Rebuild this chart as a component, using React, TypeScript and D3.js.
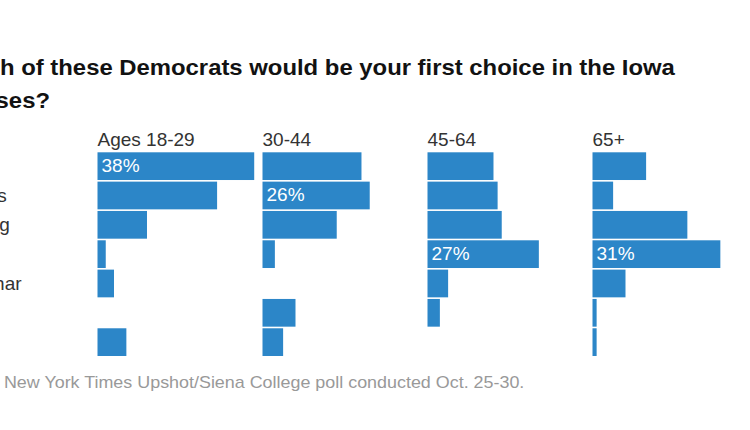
import React, { useLayoutEffect, useRef, useState } from "react";
import * as d3 from "d3";

const candidates = ["Warren", "Sanders", "Buttigieg", "Biden", "Klobuchar", "Harris", "Yang"];
const ageGroups = ["Ages 18-29", "30-44", "45-64", "65+"];
const age18to29 = [38, 29, 12, 2, 4, 0, 7];
const age30to44 = [24, 26, 18, 3, 0, 8, 5];
const age45to64 = [16, 17, 18, 27, 5, 3, 0];
const age65plus = [13, 5, 23, 31, 8, 1, 1];
const seriesValues = [age18to29, age30to44, age45to64, age65plus];
const titleLine1 = "Which of these Democrats would be your first choice in the Iowa";
const titleLine2 = "caucuses?";
const sourceText = "Source: New York Times Upshot/Siena College poll conducted Oct. 25-30.";

const W = 750;
const H = 430;
const BAR = "#2c86c8";
const FONT = "'Liberation Sans', Arial, sans-serif";

export default function App() {
  const t1 = useRef<SVGTextElement>(null);
  const t2 = useRef<SVGTextElement>(null);
  const ts = useRef<SVGTextElement>(null);
  const [m, setM] = useState({ s1: 1, p1: 0, w2: 0, sS: 1, pS: 0 });

  useLayoutEffect(() => {
    const e1 = t1.current!;
    const e2 = t2.current!;
    const es = ts.current!;
    const w1 = e1.getComputedTextLength();
    const p1 = e1.getStartPositionOfChar(4).x;
    const s1 = 675 / (w1 - p1);
    const w2 = e2.getComputedTextLength();
    const wS = es.getComputedTextLength();
    const pS = es.getStartPositionOfChar(8).x;
    const sS = 521 / (wS - pS);
    setM({ s1, p1, w2, sS, pS });
  }, []);

  const col = d3.scaleBand<string>().domain(ageGroups).range([97.5, 97.5 + 165 * ageGroups.length]).paddingInner(0);
  const row = d3.scaleBand<string>().domain(candidates).range([152.3, 356]).paddingInner(0.055).paddingOuter(0);
  const x = d3.scaleLinear().domain([0, 100]).range([0, 412.4]);

  return (
    <svg width={W} height={H} style={{ position: "fixed", left: 0, top: 0, background: "#fff" }} fontFamily={FONT}>
      <rect width={W} height={H} fill="#fff" />
      <text
        ref={t1}
        fontSize={22.5}
        fontWeight="bold"
        fill="#121212"
        transform={`translate(${-m.p1 * m.s1},75) scale(${m.s1},1)`}
      >
        {titleLine1}
      </text>
      <text
        ref={t2}
        fontSize={22.5}
        fontWeight="bold"
        fill="#121212"
        transform={`translate(${50 - m.w2 * m.s1},108) scale(${m.s1},1)`}
      >
        {titleLine2}
      </text>

      {candidates.map((c) => (
        <text key={c} x={-64} y={(row(c) as number) + row.bandwidth() / 2 + 6.5} fontSize={19} fill="#333">
          {c}
        </text>
      ))}

      {ageGroups.map((g, gi) => {
        const vals = seriesValues[gi];
        const maxV = d3.max(vals) as number;
        const x0 = col(g) as number;
        return (
          <g key={g}>
            <text x={x0} y={146} fontSize={19} fill="#333">
              {g}
            </text>
            {candidates.map((c, ci) => {
              const v = vals[ci];
              const y0 = row(c) as number;
              return (
                <g key={c}>
                  {v > 0 && <rect x={x0} y={y0} width={x(v)} height={row.bandwidth()} fill={BAR} />}
                  {v === maxV && (
                    <text x={x0 + 4} y={y0 + row.bandwidth() / 2 + 6} fontSize={19} fill="#fff">
                      {v}%
                    </text>
                  )}
                </g>
              );
            })}
          </g>
        );
      })}

      <text
        ref={ts}
        fontSize={16}
        fill="#999"
        transform={`translate(${4 - m.pS * m.sS},388) scale(${m.sS},1)`}
      >
        {sourceText}
      </text>
    </svg>
  );
}
